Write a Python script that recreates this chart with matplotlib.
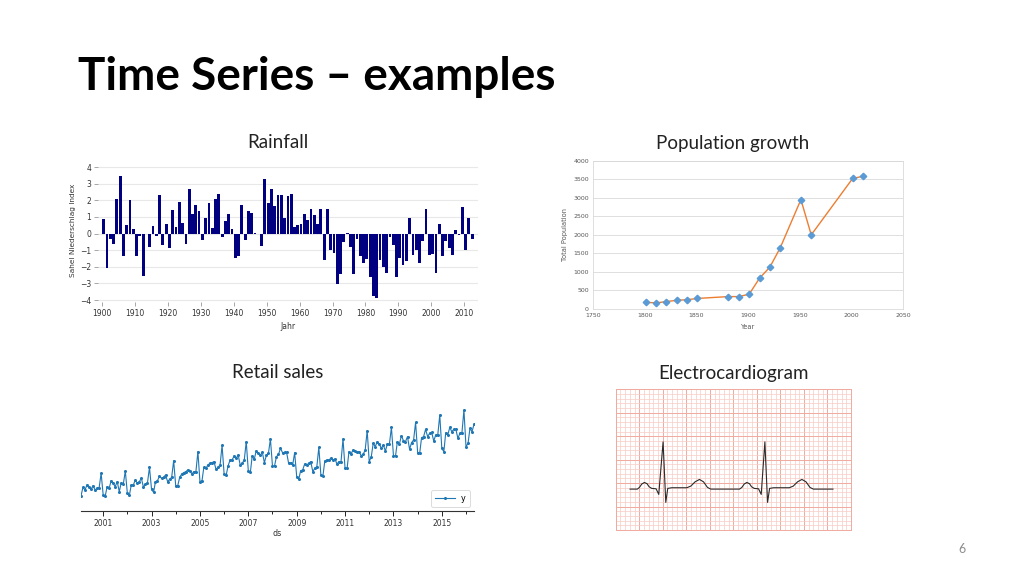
import numpy as np
import pandas as pd
import matplotlib
matplotlib.use('Agg')
import matplotlib.pyplot as plt
import matplotlib.dates as mdates
from matplotlib.ticker import MultipleLocator

# -------------------------------
# DATA
# -------------------------------
# Sahel rainfall index, 1900-2012
rain_years = list(range(1900, 2013))
rain_index = [
    0.9, -2.1, -0.34, -0.6, 2.1, 3.45, -1.36, 0.5, 2.0, 0.3,          # 1900s
    -1.36, -0.12, -2.56, -0.05, -0.8, 0.46, -0.16, 2.34, -0.7, 0.6,   # 1910s
    -0.86, 1.4, 0.4, 1.9, 0.66, -0.64, 2.7, 1.2, 1.7, 1.35,           # 1920s
    -0.4, 0.95, 1.85, 0.35, 2.1, 2.35, -0.2, 0.75, 1.15, 0.3,         # 1930s
    -1.5, -1.35, 1.7, -0.4, 1.35, 1.25, 0.05, -0.05, -0.75, 3.25,     # 1940s
    1.85, 2.65, 1.65, 2.3, 2.3, 0.95, 2.25, 2.4, 0.4, 0.5,            # 1950s
    0.55, 1.2, 0.8, 1.5, 1.1, 0.55, 1.5, -1.6, 1.45, -1.0,            # 1960s
    -1.2, -3.05, -2.45, -0.5, 0.02, -0.8, -2.45, -0.3, -1.35, -1.8,   # 1970s
    -1.55, -2.6, -3.75, -3.9, -1.6, -2.0, -2.35, -0.2, -0.7, -2.6,    # 1980s
    -1.5, -1.9, -1.65, 0.95, -1.3, -1.0, -1.75, -0.45, 1.45, -1.27,   # 1990s
    -1.25, -2.4, 0.55, -1.37, -0.45, -0.9, -1.3, 0.2, -0.1, 1.6,      # 2000s
    -1.0, 0.95, -0.35,                                                # 2010s
]

# Population growth
pop_years = [1801, 1811, 1821, 1831, 1841, 1851, 1881, 1891, 1901, 1911,
             1921, 1931, 1951, 1961, 2001, 2011]
pop_total = [180, 165, 200, 235, 250, 285, 335, 335, 400, 830,
             1130, 1650, 2950, 2000, 3520, 3580]

# Retail sales (monthly, Feb 2000 - May 2016), index units
retail_start = '2000-02-01'
retail_sales = [
    82, 108, 100, 115, 110, 102, 113, 100, 105, 107, 150,                 # 2000
    85, 82, 110, 105, 128, 120, 110, 125, 95, 122, 118, 157,              # 2001
    90, 85, 115, 115, 130, 120, 125, 135, 108, 118, 122, 168,             # 2002
    102, 93, 125, 128, 142, 135, 138, 145, 125, 132, 138, 188,            # 2003
    113, 113, 138, 148, 152, 155, 160, 158, 148, 155, 155, 215,           # 2004
    125, 128, 168, 165, 175, 180, 182, 185, 162, 168, 175, 234,           # 2005
    148, 144, 172, 190, 190, 202, 195, 205, 175, 180, 190, 245,           # 2006
    158, 153, 202, 192, 218, 210, 204, 213, 182, 204, 210, 253,           # 2007
    172, 172, 200, 207, 225, 212, 213, 213, 180, 182, 175, 212,           # 2008
    140, 132, 158, 160, 178, 175, 180, 185, 155, 165, 170, 228,           # 2009
    145, 142, 187, 190, 190, 195, 190, 193, 178, 185, 185, 253,           # 2010
    165, 165, 215, 208, 220, 217, 213, 215, 203, 207, 220, 278,           # 2011
    185, 200, 240, 230, 245, 238, 225, 235, 217, 238, 238, 288,           # 2012
    203, 202, 245, 238, 263, 248, 245, 260, 222, 242, 250, 303,           # 2013
    212, 210, 257, 260, 282, 260, 270, 273, 247, 265, 265, 325,           # 2014
    225, 215, 272, 265, 288, 275, 282, 282, 255, 270, 272, 340,           # 2015
    230, 240, 285, 275, 297,                                              # 2016
]

# ECG trace, in small grid squares (x: time, y: voltage)
ecg_t = [3.05, 4.61, 5.04, 5.53, 6.10, 6.67, 7.09, 7.66, 8.58, 9.15, 10.07, 10.64,
         11.06, 11.91, 15.11, 15.96, 16.88, 17.80, 18.65, 19.50, 20.21,
         26.31, 26.81, 27.30, 27.87, 28.44, 28.87, 29.43, 30.35, 30.92, 31.70, 32.27,
         32.70, 33.55, 36.88, 37.73, 38.65, 39.57, 40.43, 41.28, 41.99, 46.17]
ecg_v = [8.72, 8.72, 9.08, 9.79, 10.14, 9.86, 9.22, 8.87, 8.79, 7.59, 18.79, 5.89,
         8.87, 9.01, 9.01, 9.36, 10.28, 10.78, 10.28, 9.08, 8.72,
         8.72, 9.08, 9.79, 10.14, 9.86, 9.22, 8.87, 8.79, 7.59, 18.79, 5.89,
         8.87, 9.01, 9.01, 9.36, 10.28, 10.78, 10.28, 9.08, 8.72, 8.72]

W, H = 1024, 576


def box(left, top, right, bottom):
    # pixel box -> figure fraction
    return [left / W, 1 - bottom / H, (right - left) / W, (bottom - top) / H]


fig = plt.figure(figsize=(10.24, 5.76), dpi=100)
fig.patch.set_facecolor('white')

fig.text(78 / W, 1 - 90 / H, 'Time Series – examples', fontsize=33, fontweight='bold',
         family=['Lato', 'DejaVu Sans'], color='black', va='baseline')
for txt, cx, cy in [('Rainfall', 278, 143), ('Population growth', 733, 143),
                    ('Retail sales', 278, 373), ('Electrocardiogram', 733, 373)]:
    fig.text(cx / W, 1 - cy / H, txt, fontsize=13.5, family=['Lato', 'DejaVu Sans'],
             ha='center', va='center', color='#222222')
fig.text(962 / W, 1 - 549 / H, '6', fontsize=9, color='#8c8c8c', ha='center', va='center',
         family=['Lato', 'DejaVu Sans'])

# -------------------------------
# RAINFALL
# -------------------------------
ax1 = fig.add_axes(box(98, 158.7, 478, 301.7))
ax1.bar(rain_years, rain_index, width=0.85, align='edge', color='#000080', linewidth=0)
ax1.set_xlim(1898.7, 2014.2)
ax1.set_ylim(-4.1, 4.5)
ax1.set_yticks(range(-4, 5))
ax1.set_xticks(range(1900, 2011, 10))
ax1.yaxis.grid(True, color='#e8e8e8', linewidth=0.8)
ax1.set_axisbelow(True)
for s in ax1.spines.values():
    s.set_visible(False)
ax1.tick_params(axis='both', labelsize=5.5, colors='#999999', labelcolor='#333333',
                length=3, width=0.6, pad=2)
ax1.set_xlabel('Jahr', fontsize=5.5, color='#333333', labelpad=3)
ax1.set_ylabel('Sahel Niederschlag Index', fontsize=5.3, color='#333333', labelpad=3)

# -------------------------------
# POPULATION GROWTH
# -------------------------------
ax2 = fig.add_axes(box(593, 160.7, 903.3, 309))
ax2.plot(pop_years, pop_total, color='#ed7d31', linewidth=1.0, zorder=2)
ax2.plot(pop_years, pop_total, linestyle='none', marker='D', markersize=3.3,
         color='#5b9bd5', zorder=3)
ax2.set_xlim(1750, 2050)
ax2.set_ylim(0, 4000)
ax2.set_xticks(range(1750, 2051, 50))
ax2.set_yticks(range(0, 4001, 500))
ax2.yaxis.grid(True, color='#d9d9d9', linewidth=0.6)
ax2.set_axisbelow(True)
for s in ax2.spines.values():
    s.set_color('#d9d9d9')
    s.set_linewidth(0.6)
ax2.tick_params(axis='both', labelsize=4.5, labelcolor='#595959', length=0, pad=3)
ax2.set_xlabel('Year', fontsize=4.8, color='#595959', labelpad=4)
ax2.set_ylabel('Total Population', fontsize=4.8, color='#595959', labelpad=4)

# -------------------------------
# RETAIL SALES
# -------------------------------
ax3 = fig.add_axes(box(81, 395, 474, 511))
ds = pd.date_range(retail_start, periods=len(retail_sales), freq='MS')
ax3.plot(ds, retail_sales, color='#1f77b4', linewidth=0.8, marker='o', markersize=1.2,
         label='y')
ax3.set_xlim(ds[0], ds[-1])
ax3.set_ylim(37, 385)
ax3.xaxis.set_minor_locator(mdates.YearLocator(1, month=1, day=1))
ax3.xaxis.set_major_formatter(mdates.DateFormatter('%Y'))
ax3.set_xticks([pd.Timestamp(f'{y}-01-01') for y in range(2001, 2016, 2)])
ax3.set_yticks([])
for side in ['left', 'right', 'top']:
    ax3.spines[side].set_visible(False)
ax3.spines['bottom'].set_color('#333333')
ax3.spines['bottom'].set_linewidth(0.8)
ax3.tick_params(axis='x', which='major', labelsize=5.5, labelcolor='#333333',
                length=3.5, width=0.6, pad=2)
ax3.tick_params(axis='x', which='minor', length=2, width=0.6)
ax3.set_xlabel('ds', fontsize=5.8, color='#333333', labelpad=1)
leg = ax3.legend(loc='lower right', fontsize=5.8, frameon=True, handlelength=2.4,
                 borderpad=0.5, fancybox=True)
leg.get_frame().set_edgecolor('#cccccc')
leg.get_frame().set_linewidth(0.6)

# -------------------------------
# ELECTROCARDIOGRAM
# -------------------------------
ax4 = fig.add_axes(box(615.7, 389.3, 851, 530))
ax4.set_xlim(0, 50)
ax4.set_ylim(0, 30)
ax4.xaxis.set_major_locator(MultipleLocator(5))
ax4.xaxis.set_minor_locator(MultipleLocator(1))
ax4.yaxis.set_major_locator(MultipleLocator(5))
ax4.yaxis.set_minor_locator(MultipleLocator(1))
ax4.grid(True, which='minor', color='#f8cbc4', linewidth=0.5)
ax4.grid(True, which='major', color='#f1aaa0', linewidth=0.7)
ax4.set_axisbelow(True)
ax4.tick_params(which='both', length=0, labelbottom=False, labelleft=False)
for s in ax4.spines.values():
    s.set_color('#f1aaa0')
    s.set_linewidth(0.7)
ax4.plot(ecg_t, ecg_v, color='#2b2b2b', linewidth=0.8)

fig.savefig('out.png', dpi=100)
